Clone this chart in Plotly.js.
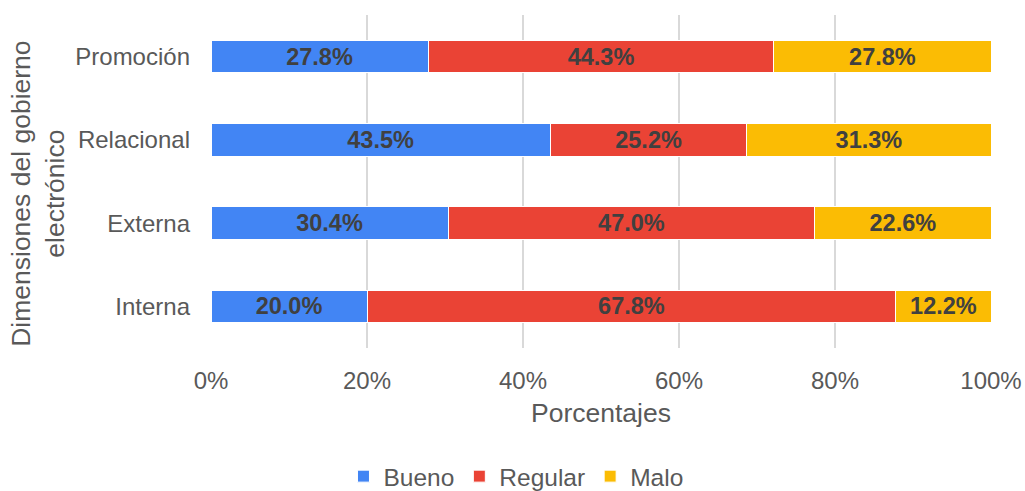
<!DOCTYPE html>
<html>
<head>
<meta charset="utf-8">
<script src="https://cdn.plot.ly/plotly-3.0.1.min.js"></script>
<style>html,body{margin:0;padding:0;background:#fff;}#chart{width:1025px;height:491px;}</style>
</head>
<body>
<div id="chart"></div>
<script>
const categories = ["Interna", "Externa", "Relacional", "Promoción"];
const seriesNames = ["Bueno", "Regular", "Malo"];
const bueno = [20.0, 30.4, 43.5, 27.8];
const regular = [67.8, 47.0, 25.2, 44.3];
const malo = [12.2, 22.6, 31.3, 27.8];
const xTickVals = [0, 20, 40, 60, 80, 100];
const xTickText = ["0%", "20%", "40%", "60%", "80%", "100%"];

const colors = ["#4285F4", "#EA4335", "#FBBC04"];
const allValues = [bueno, regular, malo];
const FONT = "'Liberation Sans', Arial, sans-serif";

const traces = allValues.map((vals, i) => ({
  type: "bar",
  orientation: "h",
  name: seriesNames[i],
  y: categories,
  x: vals,
  text: vals.map(v => v.toFixed(1) + "%"),
  textposition: "inside",
  insidetextanchor: "middle",
  constraintext: "none",
  textfont: {family: FONT, size: 23.5, color: "#404040", weight: "bold"},
  texttemplate: "<b>%{text}</b>",
  marker: {color: colors[i], line: {color: "#ffffff", width: 1}},
  hoverinfo: "none"
}));

const layout = {
  width: 1025,
  height: 491,
  margin: {l: 211, r: 34, t: 15, b: 143, autoexpand: false},
  barmode: "stack",
  barnorm: "percent",
  bargap: 0.61,
  paper_bgcolor: "#ffffff",
  plot_bgcolor: "#ffffff",
  font: {family: FONT, color: "#595959", size: 24},
  xaxis: {
    range: [0, 100],
    tickvals: xTickVals,
    ticktext: xTickText,
    showgrid: true,
    gridcolor: "#d9d9d9",
    gridwidth: 1.5,
    zeroline: false,
    showline: false,
    ticks: "",
    ticklabelstandoff: 16,
    tickfont: {family: FONT, size: 24, color: "#595959"},
    automargin: false,
    title: {text: "Porcentajes", font: {family: FONT, size: 26.5, color: "#595959"}, standoff: 10}
  },
  yaxis: {
    categoryorder: "array",
    categoryarray: categories,
    showgrid: false,
    zeroline: false,
    showline: false,
    ticks: "",
    ticklabelstandoff: 20,
    tickfont: {family: FONT, size: 24, color: "#595959"},
    automargin: false
  },
  annotations: [{
    xref: "paper", yref: "paper",
    x: -0.222, y: 0.4625,
    xanchor: "center", yanchor: "middle",
    textangle: -90,
    showarrow: false,
    text: "Dimensiones del gobierno<br>electrónico",
    font: {family: FONT, size: 26.5, color: "#595959"}
  }],
  legend: {
    orientation: "h",
    x: 0.391, xanchor: "center",
    y: -0.385, yanchor: "middle",
    font: {family: FONT, size: 24.5, color: "#595959"},
    traceorder: "normal",
    itemclick: false
  },
  showlegend: true
};

Plotly.newPlot("chart", traces, layout, {displayModeBar: false, staticPlot: true});
</script>
</body>
</html>
